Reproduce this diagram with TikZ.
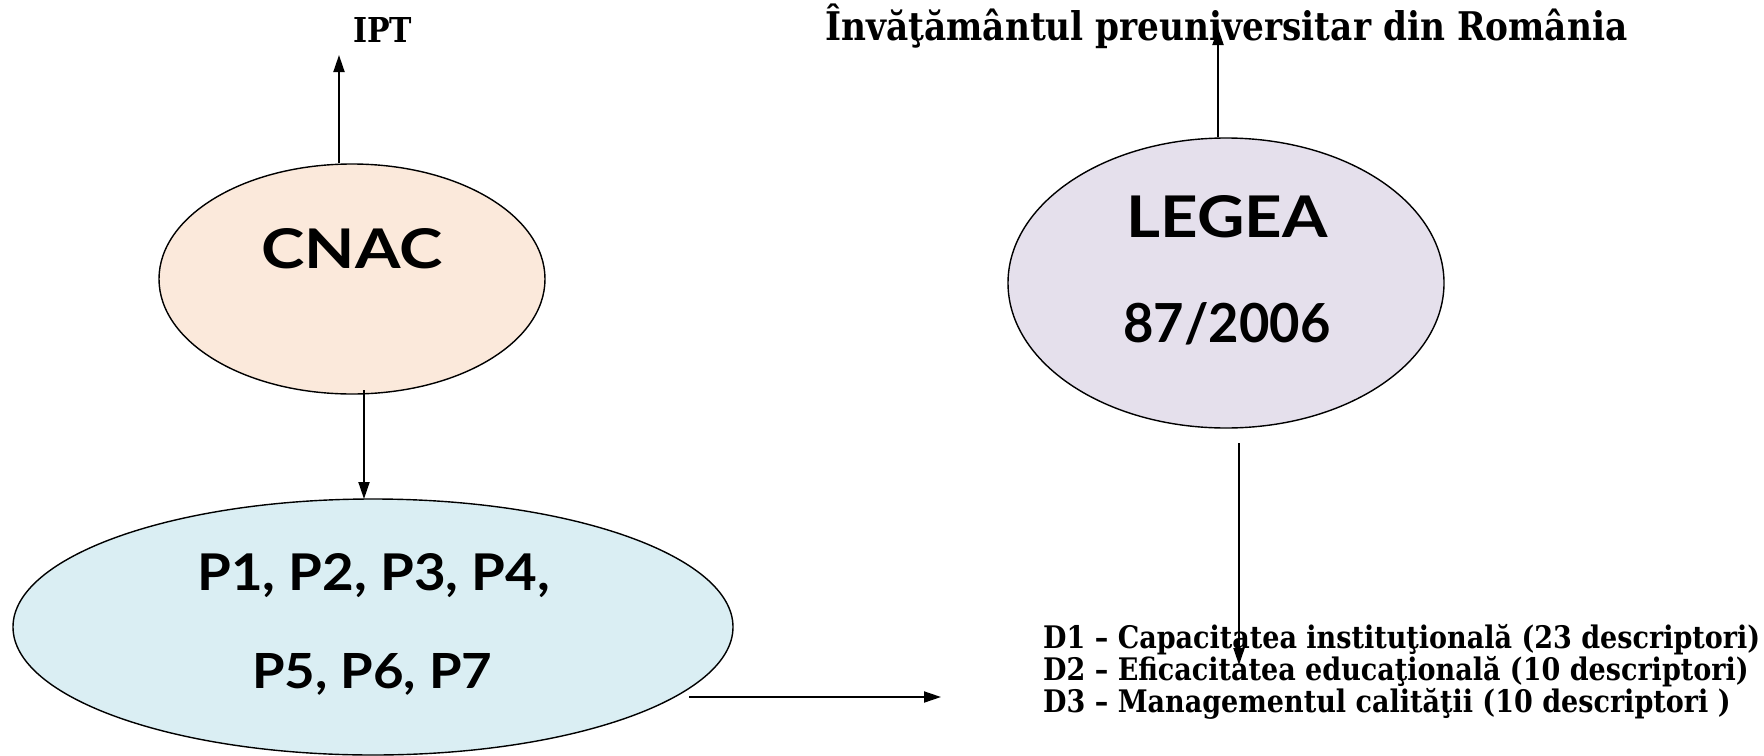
\documentclass[tikz,border=0pt]{standalone}
\usepackage{fontspec}
\usepackage{graphicx}
\usetikzlibrary{shapes.geometric,arrows.meta}
\newfontfamily\gill{Lato}
\newfontfamily\book{DejaVu Serif}
\definecolor{peach}{HTML}{FBE9DB}
\definecolor{lav}{HTML}{E5E0EC}
\definecolor{lblue}{HTML}{DAEEF3}
\newsavebox\dlinebox
\AtBeginDocument{\savebox\dlinebox{\book\bfseries D1 – Capacitatea instituţională (23 descriptori)}}
\tikzset{
  ell/.style={ellipse, draw=black, line width=1.4pt, inner sep=0pt},
  arr/.style={line width=1.9pt, -{Triangle[length=17pt,width=11pt]}},
  lbl/.style={inner sep=0pt, anchor=base},
  lblw/.style={inner sep=0pt, anchor=base west}
}
\begin{document}
\begin{tikzpicture}[x=1pt,y=-1pt]
\useasboundingbox[fill=white] (0,0) rectangle (1764,755);
\pgfmathsetmacro\dscale{717/\the\wd\dlinebox}
\pgfmathsetmacro\dscaley{\dscale*1.15}
% ellipses
\node[ell, fill=peach, minimum width=386pt, minimum height=230pt] (cnac) at (352,279) {};
\node[ell, fill=lav, minimum width=436pt, minimum height=290pt] (legea) at (1226,283) {};
\node[ell, fill=lblue, minimum width=720pt, minimum height=256pt] (pell) at (373,627) {};
% ellipse texts
\node[lbl] (tcnac) at (352,268) {\resizebox{181pt}{40pt}{\gill\bfseries CNAC}};
\node[lbl] (tlegea) at (1227,237) {\resizebox{201pt}{42pt}{\gill\bfseries LEGEA}};
\node[lbl] (tlaw) at (1227,342) {\resizebox{207pt}{40pt}{\gill\bfseries 87/2006}};
\node[lblw] (tp1) at (197,590) {\resizebox{353pt}{37pt}{\gill\bfseries P1, P2, P3, P4,}};
\node[lblw] (tp2) at (252,688) {\resizebox{240pt}{35pt}{\gill\bfseries P5, P6, P7}};
% outer texts
\node[lblw] (ipt) at (353,42) {\resizebox{59pt}{25pt}{\book\bfseries IPT}};
\node[lblw] (inv) at (825,40) {\scalebox{1}[1.15]{\resizebox{802pt}{!}{\book\bfseries Învăţământul preuniversitar din România}}};
\node[lblw] (d1) at (1043,648) {\scalebox{\dscale}[\dscaley]{\book\bfseries D1 – Capacitatea instituţională (23 descriptori)}};
\node[lblw] (d2) at (1043,680) {\scalebox{\dscale}[\dscaley]{\book\bfseries D2 – Eficacitatea educaţională (10 descriptori)}};
\node[lblw] (d3) at (1043,712) {\scalebox{\dscale}[\dscaley]{\book\bfseries D3 – Managementul calităţii (10 descriptori )}};
% connector ends
\coordinate (iptend) at (339,55);
\coordinate (cnacout) at (364,390);
\coordinate (ptop) at (364,499);
\coordinate (invend) at (1218,28);
\coordinate (legout) at (1239,443);
\coordinate (dend) at (1239,665);
\coordinate (pout) at (689,697);
\coordinate (pend) at (941,697);
% connectors
\draw[arr] (cnac.north -| iptend) -- (iptend);
\draw[arr] (cnacout) -- (ptop);
\draw[arr] (legea.north -| invend) -- (invend);
\draw[arr] (legout) -- (dend);
\draw[arr] (pout) -- (pend);
\end{tikzpicture}
\end{document}
